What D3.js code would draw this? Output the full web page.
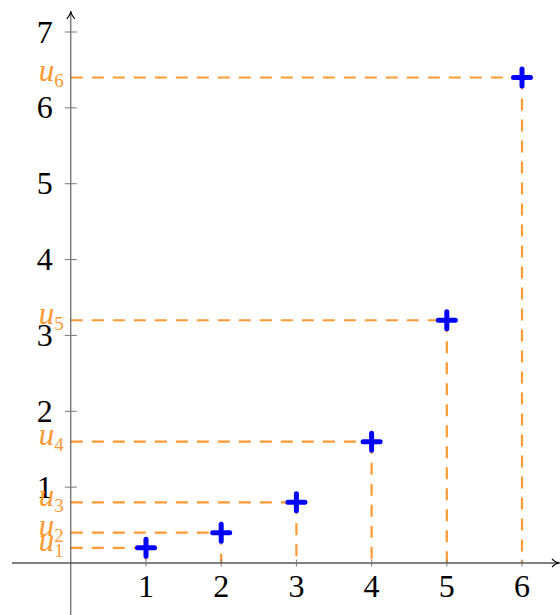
<!DOCTYPE html>
<html>
<head>
<meta charset="utf-8">
<script src="https://cdn.jsdelivr.net/npm/d3@7"></script>
<style>
  html, body { margin: 0; padding: 0; background: #fff; }
  svg { display: block; }
</style>
</head>
<body>
<svg id="chart" width="560" height="615"></svg>
<script>
// Sequence terms u_n = u_{n-1} * 2
const indices = [1, 2, 3, 4, 5, 6];
const values = [0.2, 0.4, 0.8, 1.6, 3.2, 6.4];
const xTicks = [1, 2, 3, 4, 5, 6];
const yTicks = [1, 2, 3, 4, 5, 6, 7];

const svg = d3.select("#chart");
const orange = "#ff9933";
const blue = "#0000ff";
const serif = "'Liberation Serif', 'DejaVu Serif', serif";

const x = d3.scaleLinear().domain([0, 6]).range([70.8, 522]);
const y = d3.scaleLinear().domain([0, 7]).range([563, 32]);

// Dashed guides from each point to both axes
const guides = svg.append("g");
indices.forEach((n, i) => {
  guides.append("line")
    .attr("x1", x(0)).attr("x2", x(n))
    .attr("y1", y(values[i])).attr("y2", y(values[i]))
    .attr("stroke", orange).attr("stroke-width", 2.2)
    .attr("stroke-dasharray", "12,9");
  guides.append("line")
    .attr("x1", x(n)).attr("x2", x(n))
    .attr("y1", y(values[i])).attr("y2", y(0))
    .attr("stroke", orange).attr("stroke-width", 2.2)
    .attr("stroke-dasharray", "12,9");
});

// Axes lines
svg.append("line")
  .attr("x1", 12).attr("x2", 558).attr("y1", y(0)).attr("y2", y(0))
  .attr("stroke", "#000").attr("stroke-width", 1);
svg.append("line")
  .attr("x1", x(0)).attr("x2", x(0)).attr("y1", 615).attr("y2", 12)
  .attr("stroke", "#444").attr("stroke-width", 1);

// Arrow heads
svg.append("path")
  .attr("d", `M${x(0) - 4},${19} Q${x(0)},${14} ${x(0)},${11} Q${x(0)},${14} ${x(0) + 4},${19}`)
  .attr("fill", "none").attr("stroke", "#000").attr("stroke-width", 1.1);
svg.append("path")
  .attr("d", `M${552},${y(0) - 4} Q${556},${y(0)} ${560},${y(0)} Q${556},${y(0)} ${552},${y(0) + 4}`)
  .attr("fill", "none").attr("stroke", "#000").attr("stroke-width", 1.1);

// Tick marks and labels
const xAxis = svg.append("g");
xTicks.forEach(t => {
  xAxis.append("line")
    .attr("x1", x(t)).attr("x2", x(t)).attr("y1", y(0) - 3.5).attr("y2", y(0) + 3.5)
    .attr("stroke", "#777").attr("stroke-width", 1);
  xAxis.append("text")
    .attr("x", x(t)).attr("y", y(0) + 34)
    .attr("text-anchor", "middle")
    .attr("font-family", serif).attr("font-size", 32)
    .attr("fill", "#000").text(t);
});
const yAxis = svg.append("g");
yTicks.forEach(t => {
  yAxis.append("line")
    .attr("x1", x(0) - 6).attr("x2", x(0) + 6).attr("y1", y(t)).attr("y2", y(t))
    .attr("stroke", "#777").attr("stroke-width", 1);
  yAxis.append("text")
    .attr("x", x(0) - 18).attr("y", y(t) + 10.5)
    .attr("text-anchor", "end")
    .attr("font-family", serif).attr("font-size", 32)
    .attr("fill", "#000").text(t);
});

// Term labels u_n on the vertical axis
indices.forEach((n, i) => {
  const tx = svg.append("text")
    .attr("x", x(0) - 7).attr("y", y(values[i]) + 3.5)
    .attr("text-anchor", "end")
    .attr("font-family", serif).attr("font-size", 31)
    .attr("fill", orange);
  tx.append("tspan").attr("font-style", "italic").text("u");
  tx.append("tspan").attr("font-size", 19).attr("dy", 6).text(n);
});

// Plus markers
const s = 8.5;
svg.append("g").selectAll("path")
  .data(indices)
  .join("path")
  .attr("d", (n, i) => {
    const cx = x(n), cy = y(values[i]);
    return `M${cx - s},${cy} H${cx + s} M${cx},${cy - s} V${cy + s}`;
  })
  .attr("stroke", blue).attr("stroke-width", 5)
  .attr("stroke-linecap", "round")
  .attr("fill", "none");
</script>
</body>
</html>
